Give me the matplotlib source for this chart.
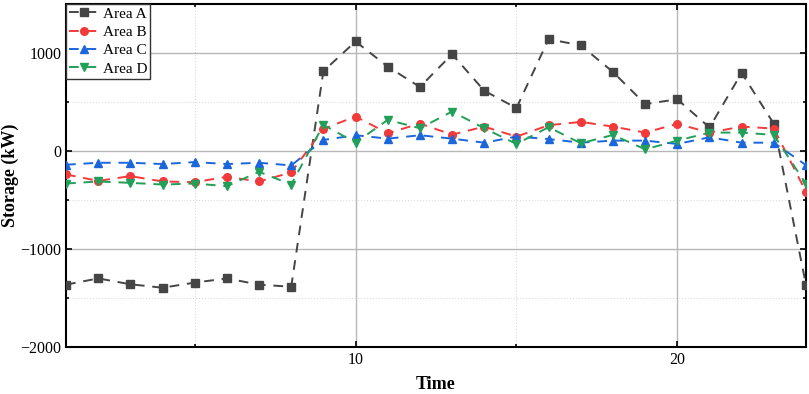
import matplotlib
matplotlib.use("Agg")
import matplotlib.pyplot as plt
from matplotlib.ticker import MultipleLocator

time = list(range(1, 25))
area_a = [-1364, -1300, -1360, -1395, -1343, -1300, -1364, -1385, 815, 1118, 861, 653,
          988, 615, 438, 1142, 1077, 807, 479, 528, 240, 797, 277, -1368]
area_b = [-239, -305, -256, -311, -318, -263, -311, -219, 226, 352, 181, 280,
          167, 249, 147, 263, 297, 249, 188, 277, 188, 249, 229, -417]
area_c = [-140, -120, -120, -133, -113, -133, -120, -147, 113, 161, 126, 161,
          126, 85, 147, 122, 85, 106, 106, 72, 140, 85, 85, -144]
area_d = [-332, -311, -325, -342, -332, -359, -212, -342, 267, 85, 318, 232,
          403, 232, 72, 243, 79, 164, 17, 106, 188, 188, 164, -338]

series = [
    ("Area A", area_a, "#454545", "s"),
    ("Area B", area_b, "#f23a3a", "o"),
    ("Area C", area_c, "#1c66dc", "^"),
    ("Area D", area_d, "#22a05a", "v"),
]

plt.rcParams['font.family'] = ['Liberation Serif', 'DejaVu Serif']
plt.rcParams['mathtext.fontset'] = 'stix'

fig = plt.figure(figsize=(8.09, 3.94), dpi=100)
ax = fig.add_axes([0.0816, 0.1193, 0.9147, 0.8705])

for name, vals, col, mk in series:
    ax.plot(time, vals, linestyle=(0, (5, 4)), color=col, marker=mk, markersize=5.5,
            linewidth=1.4, label=name, zorder=3)

ax.set_xlim(1, 24)
ax.set_ylim(-2000, 1500)
ax.xaxis.set_major_locator(MultipleLocator(10))
ax.xaxis.set_minor_locator(MultipleLocator(5))
ax.yaxis.set_major_locator(MultipleLocator(1000))
ax.yaxis.set_minor_locator(MultipleLocator(500))

ax.grid(which='major', color='#b8b8b8', linewidth=1.0, linestyle='-', zorder=0)
ax.grid(which='minor', color='#dcdcdc', linewidth=0.8, linestyle=':', zorder=0)
ax.set_axisbelow(True)

ax.tick_params(which='both', direction='in', top=True, right=True, labelsize=11.5, width=1.2)
ax.tick_params(which='major', length=4)
ax.tick_params(which='minor', length=2.5)
for s in ax.spines.values():
    s.set_linewidth(1.5)

ax.set_xlabel("Time", fontsize=13, fontweight='bold', labelpad=6)
ax.set_ylabel("Storage (kW)", fontsize=13, fontweight='bold', labelpad=1)

leg = ax.legend(loc='upper left', fontsize=11, frameon=True, fancybox=False,
                edgecolor='#333333', framealpha=1, borderaxespad=0.0,
                handlelength=1.9, handletextpad=0.3, borderpad=0.2, labelspacing=0.3)
leg.get_frame().set_linewidth(1.0)

fig.savefig("out.png", dpi=100)
